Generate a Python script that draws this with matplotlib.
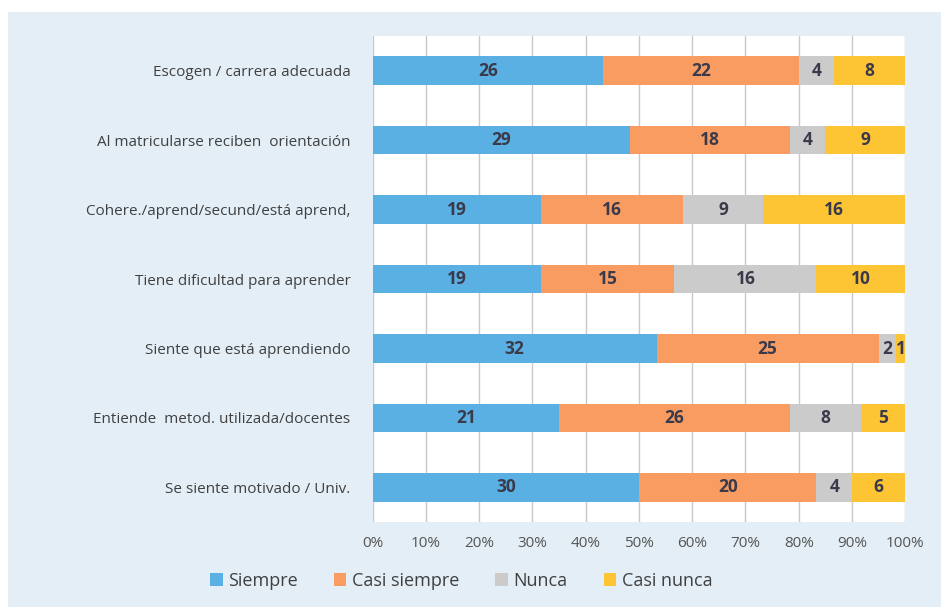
import matplotlib.pyplot as plt
from matplotlib.patches import Rectangle

# --- DATA ---
CATEGORIES = [
    "Escogen / carrera adecuada",
    "Al matricularse reciben  orientación",
    "Cohere./aprend/secund/está aprend,",
    "Tiene dificultad para aprender",
    "Siente que está aprendiendo",
    "Entiende  metod. utilizada/docentes",
    "Se siente motivado / Univ.",
]
SIEMPRE = [26, 29, 19, 19, 32, 21, 30]
CASI_SIEMPRE = [22, 18, 16, 15, 25, 26, 20]
NUNCA = [4, 4, 9, 16, 2, 8, 4]
CASI_NUNCA = [8, 9, 16, 10, 1, 5, 6]
SERIES = ["Siempre", "Casi siempre", "Nunca", "Casi nunca"]
COLORS = ["#5aafe3", "#f89c62", "#cbcbcb", "#fdc434"]

BG = "#e3eef6"
FONT = ["Open Sans", "DejaVu Sans"]


def main() -> None:
    plt.rcParams["font.family"] = FONT
    fig = plt.figure(figsize=(9.41, 6.10), dpi=100)
    fig.patch.set_facecolor("white")
    fig.patches.append(
        Rectangle((8 / 941, 0.005), 1, 1 - 12 / 610 - 0.005,
                  transform=fig.transFigure, facecolor=BG, edgecolor="none", zorder=-1)
    )

    ax = fig.add_axes([0.396, 0.144, 0.566, 0.797])
    ax.set_facecolor("white")

    values = [SIEMPRE, CASI_SIEMPRE, NUNCA, CASI_NUNCA]
    totals = [sum(v) for v in zip(*values)]
    ypos = list(range(len(CATEGORIES)))
    left = [0.0] * len(CATEGORIES)
    for name, vals, color in zip(SERIES, values, COLORS):
        widths = [v / t * 100 for v, t in zip(vals, totals)]
        bars = ax.barh(ypos, widths, left=left, height=0.41, color=color,
                       label=name, zorder=2)
        for bar, v in zip(bars, vals):
            x = bar.get_x() + bar.get_width() / 2
            y = bar.get_y() + bar.get_height() / 2
            ax.text(x, y, str(v), ha="center", va="center", fontsize=12.5,
                    fontweight="bold", color="#3a3a4a", zorder=3)
        left = [l + w for l, w in zip(left, widths)]

    ax.set_xlim(0, 100)
    ax.set_ylim(len(CATEGORIES) - 0.5, -0.5)
    ax.set_xticks(range(0, 101, 10))
    ax.set_xticklabels([f"{t}%" for t in range(0, 101, 10)], fontsize=11, color="#555555")
    ax.set_yticks(ypos)
    ax.set_yticklabels(CATEGORIES, fontsize=11, color="#404040")
    ax.tick_params(length=0, pad=16)
    ax.tick_params(axis="x", pad=10)
    ax.grid(axis="x", color="#c9c9c9", linewidth=1, zorder=0)
    for s in ax.spines.values():
        s.set_visible(False)

    fig.legend(loc="center", bbox_to_anchor=(0.49, 0.048), ncol=4, frameon=False,
               fontsize=13, handlelength=0.7, handleheight=0.7, handletextpad=0.3,
               columnspacing=2.0, labelcolor="#404040")

    fig.savefig("out.png", dpi=100)


if __name__ == "__main__":
    main()
